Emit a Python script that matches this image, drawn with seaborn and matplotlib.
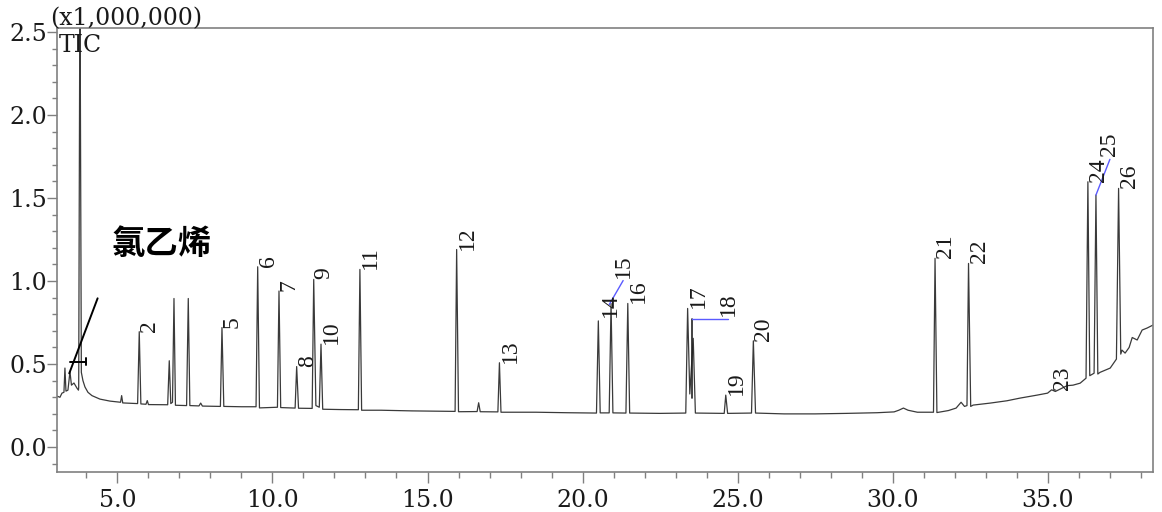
import matplotlib
matplotlib.use("Agg")
import matplotlib.pyplot as plt
from matplotlib.ticker import FormatStrFormatter, MultipleLocator
import pandas as pd
import seaborn as sns

# TIC trace: (retention time / min, intensity / 1e6)
trace = [
    (3.05, 0.307), (3.145, 0.300), (3.21, 0.325), (3.274, 0.330), (3.306, 0.476),
    (3.339, 0.337), (3.403, 0.343), (3.468, 0.454), (3.516, 0.373), (3.597, 0.386),
    (3.694, 0.355), (3.742, 0.343), (3.75, 0.360), (3.79, 2.900), (3.835, 0.450),
    (3.887, 0.400), (3.952, 0.362), (4.048, 0.330), (4.177, 0.310), (4.435, 0.289),
    (4.758, 0.277), (5.048, 0.271), (5.10, 0.270), (5.135, 0.310), (5.17, 0.266),
    (5.65, 0.262), (5.703, 0.695), (5.755, 0.260), (5.92, 0.258), (5.961, 0.280),
    (6.00, 0.256), (6.62, 0.255), (6.671, 0.520), (6.72, 0.262), (6.775, 0.270),
    (6.823, 0.895), (6.87, 0.252), (7.23, 0.250), (7.284, 0.895), (7.335, 0.250),
    (7.63, 0.248), (7.684, 0.265), (7.74, 0.247), (8.32, 0.245), (8.371, 0.720),
    (8.43, 0.245), (9.00, 0.243), (9.47, 0.243), (9.523, 1.086), (9.58, 0.236),
    (10.16, 0.240), (10.21, 0.940), (10.265, 0.238), (10.73, 0.235), (10.78, 0.485),
    (10.84, 0.234), (11.28, 0.233), (11.33, 1.010), (11.40, 0.250), (11.51, 0.240),
    (11.565, 0.620), (11.62, 0.228), (12.20, 0.226), (12.77, 0.225), (12.82, 1.070),
    (12.875, 0.222), (13.50, 0.222), (14.50, 0.218), (15.89, 0.215), (15.94, 1.190),
    (16.00, 0.213), (16.60, 0.214), (16.65, 0.267), (16.70, 0.213), (17.27, 0.212),
    (17.32, 0.508), (17.37, 0.210), (18.50, 0.210), (19.50, 0.207), (20.45, 0.205),
    (20.51, 0.760), (20.57, 0.206), (20.86, 0.206), (20.92, 0.865), (20.98, 0.206),
    (21.40, 0.205), (21.46, 0.865), (21.52, 0.205), (22.50, 0.203), (23.33, 0.205),
    (23.39, 0.835), (23.46, 0.320), (23.57, 0.655), (23.64, 0.205), (24.57, 0.203),
    (24.62, 0.313), (24.68, 0.203), (25.45, 0.205), (25.51, 0.640), (25.58, 0.205),
    (26.50, 0.200), (27.50, 0.200), (28.50, 0.203), (29.50, 0.207), (30.05, 0.212),
    (30.20, 0.222), (30.35, 0.235), (30.50, 0.222), (30.80, 0.210), (31.32, 0.210),
    (31.37, 1.137), (31.43, 0.208), (31.80, 0.220), (32.05, 0.235), (32.21, 0.270),
    (32.32, 0.245), (32.40, 0.250), (32.45, 1.106), (32.52, 0.245), (32.60, 0.253),
    (33.15, 0.265), (33.69, 0.279), (34.11, 0.295), (34.66, 0.313), (35.00, 0.325),
    (35.13, 0.345), (35.25, 0.335), (35.63, 0.370), (35.82, 0.373), (36.05, 0.385),
    (36.24, 0.415), (36.30, 1.598), (36.36, 0.430), (36.50, 0.445), (36.56, 1.518),
    (36.62, 0.440), (36.69, 0.450), (37.02, 0.476), (37.22, 0.530), (37.29, 1.558),
    (37.36, 0.560), (37.40, 0.584), (37.50, 0.566), (37.63, 0.600), (37.73, 0.660),
    (37.89, 0.645), (38.05, 0.705), (38.21, 0.717), (38.40, 0.735),
]
trace_rt = [p[0] for p in trace]
trace_tic = [p[1] for p in trace]

# numbered peaks: label, apex time, apex intensity
peak_label = ["2", "5", "6", "7", "8", "9", "10", "11", "12", "13", "14", "15", "16",
              "17", "18", "19", "20", "21", "22", "23", "24", "25", "26"]
peak_rt = [5.703, 8.371, 9.523, 10.21, 10.78, 11.33, 11.565, 12.82, 15.94, 17.32, 20.92,
           20.86, 21.46, 23.39, 23.54, 24.62, 25.51, 31.37, 32.45, 35.13, 36.30, 36.56, 37.29]
peak_top = [0.695, 0.720, 1.086, 0.940, 0.485, 1.010, 0.620, 1.070, 1.190, 0.508, 0.865,
            0.858, 0.865, 0.835, 0.769, 0.313, 0.640, 1.137, 1.106, 0.345, 1.598, 1.518, 1.558]

# leader lines for crowded labels: label -> (end rt, end intensity, colour)
leaders = {"15": (21.31, 1.003, "#5a5aff"), "18": (24.70, 0.769, "#5a5aff"),
           "25": (37.01, 1.733, "#5a5aff")}

sns.set_theme(style="ticks")
plt.rcParams["font.family"] = ["DejaVu Serif"]

fig = plt.figure(figsize=(11.62, 5.12), dpi=100)
ax = fig.add_axes([57 / 1162, 40 / 512, 1096 / 1162, 444 / 512])

df = pd.DataFrame({"rt": trace_rt, "tic": trace_tic})
sns.lineplot(data=df, x="rt", y="tic", sort=False, estimator=None,
             color="#3a3a3a", linewidth=0.9, ax=ax)

ax.set_xlim(3.05, 38.40)
ax.set_ylim(-0.15, 2.524)
ax.set_xlabel("")
ax.set_ylabel("")
ax.xaxis.set_major_locator(MultipleLocator(5))
ax.xaxis.set_minor_locator(MultipleLocator(1))
ax.yaxis.set_major_locator(MultipleLocator(0.5))
ax.yaxis.set_minor_locator(MultipleLocator(0.1))
ax.xaxis.set_major_formatter(FormatStrFormatter("%.1f"))
ax.yaxis.set_major_formatter(FormatStrFormatter("%.1f"))

for side in ["left", "right", "top", "bottom"]:
    ax.spines[side].set_visible(True)
    ax.spines[side].set_color("#808080")
    ax.spines[side].set_linewidth(1.2)
ax.tick_params(axis="both", which="both", direction="out", color="#808080",
               labelcolor="#1a1a1a", labelsize=17, width=1.0)
ax.tick_params(axis="x", which="major", length=8, pad=4)
ax.tick_params(axis="x", which="minor", length=4)
ax.tick_params(axis="y", which="major", length=7, pad=0)
ax.tick_params(axis="y", which="minor", length=3.6)

# peak numbers
for lab, rt, top in zip(peak_label, peak_rt, peak_top):
    if lab in leaders:
        ex, ey, col = leaders[lab]
        if lab == "18":
            ax.plot([rt, rt], [0.293, top], color="#222222", linewidth=1.2)
        ax.plot([rt, ex], [top, ey], color=col, linewidth=1.0)
        ax.annotate(lab, xy=(ex, ey), xytext=(0, 3), textcoords="offset pixels",
                    rotation=90, ha="center", va="bottom", fontsize=17,
                    family="Liberation Serif", color="#1a1a1a")
    else:
        off = (-11, -14) if lab == "14" else (0, 0)
        ax.annotate(lab, xy=(rt, top), xytext=off, textcoords="offset pixels",
                    rotation=90, ha="left", va="bottom", fontsize=17,
                    family="Liberation Serif", color="#1a1a1a")

# vinyl chloride marker near the solvent front
ax.plot([3.445, 4.36], [0.444, 0.896], color="black", linewidth=1.4)
ax.plot([3.48, 3.99], [0.514, 0.514], color="black", linewidth=1.4)
ax.plot([3.99, 3.99], [0.495, 0.535], color="black", linewidth=1.4)
ax.text(4.82, 1.223, "氯乙烯", ha="left", va="center", fontsize=24, fontweight="bold",
        family=["Noto Sans CJK SC", "DejaVu Sans"], color="black")

ax.text(0.002, 0.946, "TIC", transform=ax.transAxes, ha="left", va="baseline",
        fontsize=17, color="#1a1a1a")
fig.text(50 / 1162, 1 - 25 / 512, "(x1,000,000)", ha="left", va="baseline",
         fontsize=17, color="#1a1a1a")

fig.savefig("out.png", dpi=100)
